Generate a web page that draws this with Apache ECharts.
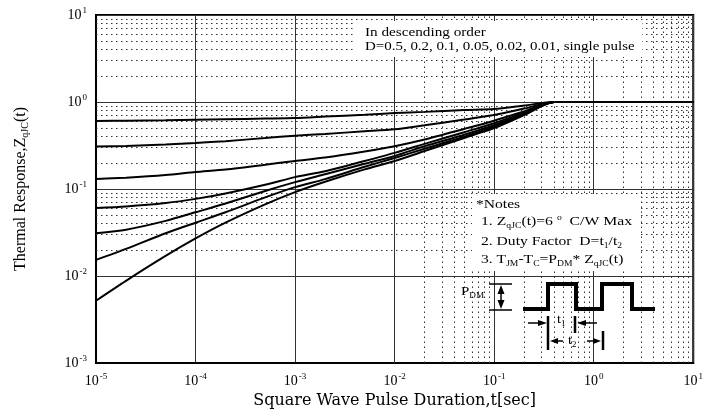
<!DOCTYPE html>
<html><head><meta charset="utf-8">
<script src="https://cdn.jsdelivr.net/npm/echarts@6/dist/echarts.min.js"></script>
<style>html,body{margin:0;padding:0;background:#fff}#c{width:706px;height:418px}</style>
</head><body><div id="c"></div>
<script>
// ---- data ----
const tValues = [1e-5,2e-5,5e-5,1e-4,2e-4,5e-4,1e-3,2e-3,5e-3,1e-2,2e-2,5e-2,1e-1,2e-1,4e-1,1,10];
const zD050 = [0.605,0.61,0.617,0.625,0.633,0.645,0.655,0.68,0.715,0.745,0.77,0.81,0.83,0.91,1,1,1];
const zD020 = [0.307,0.313,0.325,0.338,0.355,0.385,0.41,0.43,0.46,0.485,0.54,0.63,0.71,0.84,1,1,1];
const zD010 = [0.13,0.135,0.145,0.157,0.168,0.19,0.21,0.23,0.27,0.31,0.37,0.49,0.61,0.78,1,1,1];
const zD005 = [0.0605,0.063,0.069,0.077,0.089,0.112,0.137,0.16,0.21,0.26,0.33,0.45,0.57,0.755,1,1,1];
const zD002 = [0.031,0.034,0.043,0.054,0.068,0.095,0.12,0.148,0.195,0.24,0.31,0.42,0.54,0.735,1,1,1];
const zD001 = [0.0153,0.0205,0.031,0.041,0.054,0.08,0.105,0.13,0.18,0.227,0.29,0.40,0.52,0.72,1,1,1];
const zSingle = [0.0052,0.0088,0.017,0.027,0.041,0.0665,0.092,0.121,0.168,0.21,0.273,0.386,0.50,0.707,1,1,1];
const seriesNames = ['D=0.5','D=0.2','D=0.1','D=0.05','D=0.02','D=0.01','single pulse'];
const seriesValues = [zD050,zD020,zD010,zD005,zD002,zD001,zSingle];
const xDecades = [-5,-4,-3,-2,-1,0];   // minor grid decades on x
const yDecades = [-3,-2,-1,0];         // minor grid decades on y
const minorSteps = [2,3,4,5,6,7,8,9];

const FONT = "'Liberation Serif','DejaVu Serif',serif";
const chart = echarts.init(document.getElementById('c'), null, {renderer:'canvas'});

const minorLines = [];
xDecades.forEach(d => minorSteps.forEach(k => minorLines.push({xAxis: k*Math.pow(10,d)})));
yDecades.forEach(d => minorSteps.forEach(k => minorLines.push({yAxis: k*Math.pow(10,d)})));

const labRich = {
  b:{fontSize:14, fontFamily:FONT, color:'#000'},
  s:{fontSize:9, fontFamily:FONT, color:'#000', padding:[0,0,9,1]}
};
const powFmt = v => '{b|10}{s|' + Math.round(Math.log10(v)) + '}';

const series = seriesNames.map((n,i) => ({
  name:n, type:'line', smooth:0.25, symbol:'none', z:5,
  lineStyle:{color:'#000', width:2},
  data: tValues.map((t,j)=>[t, seriesValues[i][j]])
}));
series.push({
  type:'line', data:[], silent:true, z:3,
  markLine:{symbol:'none', silent:true, label:{show:false},
    lineStyle:{color:'#333', width:1, type:[1.5,3.5]}, animation:false,
    data:minorLines}
});

const subR = {fontSize:8, fontFamily:FONT, color:'#000', padding:[7,0,0,0]};
const txtR = {fontSize:13, fontFamily:FONT, color:'#000'};

function T(x,y,text,sx){
  return {type:'text', x:x, y:y, z:110, scaleX:sx||1.18,
    style:{text:text, font:'13px '+FONT, fill:'#000', textVerticalAlign:'middle',
      rich:{n:txtR, sub:subR, sup:{fontSize:8,fontFamily:FONT,color:'#000',padding:[0,0,8,0]}}}};
}
function L(pts, w){ return {type:'polyline', z:110, shape:{points:pts}, style:{stroke:'#000', lineWidth:w||1.5, fill:null}}; }
function P(pts){ return {type:'polygon', z:110, shape:{points:pts}, style:{fill:'#000'}}; }

const graphics = [
  {type:'rect', z:100, shape:{x:356,y:21,width:286,height:36}, style:{fill:'#fff'}},
  {type:'rect', z:100, shape:{x:472,y:194,width:168,height:77}, style:{fill:'#fff'}},
  T(365,33,'{n|In descending order}',1.17),
  T(365,47,'{n|D=0.5, 0.2, 0.1, 0.05, 0.02, 0.01, single pulse}',1.15),
  T(476,205,'{n|*Notes}',1.2),
  T(481,222,'{n|1. Z}{sub|qJC}{n|(t)=6 }{sup|o}{n|  C/W Max}',1.21),
  T(481,242,'{n|2. Duty Factor  D=t}{sub|1}{n|/t}{sub|2}',1.2),
  T(481,260,'{n|3. T}{sub|JM}{n|-T}{sub|C}{n|=P}{sub|DM}{n|* Z}{sub|qJC}{n|(t)}',1.2),
  // pulse
  L([[523,309],[548,309],[548,284],[576,284],[576,309],[602,309],[602,284],[632,284],[632,309],[655,309]],4),
  L([[489,284],[512,284]],1.5), L([[489,310],[512,310]],1.5),
  L([[501,290],[501,304]],1.5),
  P([[501,285],[497.5,294],[504.5,294]]), P([[501,309],[497.5,300],[504.5,300]]),
  T(461,292,'{n|P}{sub|DM}',1.15),
  L([[548,316],[548,350]],2.5), L([[575,316],[575,333]],2.5), L([[603,331],[603,350]],2.5),
  L([[528,323],[540,323]],1.5), P([[547,323],[538,320],[538,326]]),
  L([[584,323],[597,323]],1.5), P([[577,323],[586,320],[586,326]]),
  T(557,320,'{n|t}{sub|1}',1.1),
  L([[556,341],[563,341]],1.5), P([[550,341],[558,338],[558,344]]),
  L([[587,341],[594,341]],1.5), P([[601,341],[593,338],[593,344]]),
  T(568,341,'{n|t}{sub|2}',1.1)
];

chart.setOption({
  animation:false,
  backgroundColor:'#fff',
  grid:{left:96, right:7, top:15, bottom:55, show:true, borderColor:'#000', borderWidth:2, backgroundColor:'transparent'},
  xAxis:{type:'log', logBase:10, min:1e-5, max:10,
    name:'Square Wave Pulse Duration,t[sec]', nameLocation:'middle', nameGap:27,
    nameTextStyle:{fontFamily:"'DejaVu Serif',serif", fontSize:16, color:'#000'},
    axisLine:{show:true, lineStyle:{color:'#000', width:2}},
    axisTick:{show:false},
    axisLabel:{formatter:powFmt, rich:labRich, margin:9},
    splitLine:{show:true, lineStyle:{color:'#333', width:1}},
    minorTick:{show:false}, minorSplitLine:{show:false}},
  yAxis:{type:'log', logBase:10, min:1e-3, max:10,
    name:'{n|Thermal Response,Z}{s|qJC}{n|(t)}', nameLocation:'middle', nameGap:66, nameRotate:90,
    nameTextStyle:{fontFamily:FONT, fontSize:16, color:'#000',
      rich:{n:{fontFamily:FONT,fontSize:16,color:'#000'}, s:{fontFamily:FONT,fontSize:10,color:'#000',padding:[8,0,0,0]}}},
    axisLine:{show:true, lineStyle:{color:'#000', width:2}},
    axisTick:{show:false},
    axisLabel:{formatter:powFmt, rich:labRich, margin:9},
    splitLine:{show:true, lineStyle:{color:'#333', width:1}},
    minorTick:{show:false}, minorSplitLine:{show:false}},
  series:series,
  graphic:graphics
});
</script></body></html>
